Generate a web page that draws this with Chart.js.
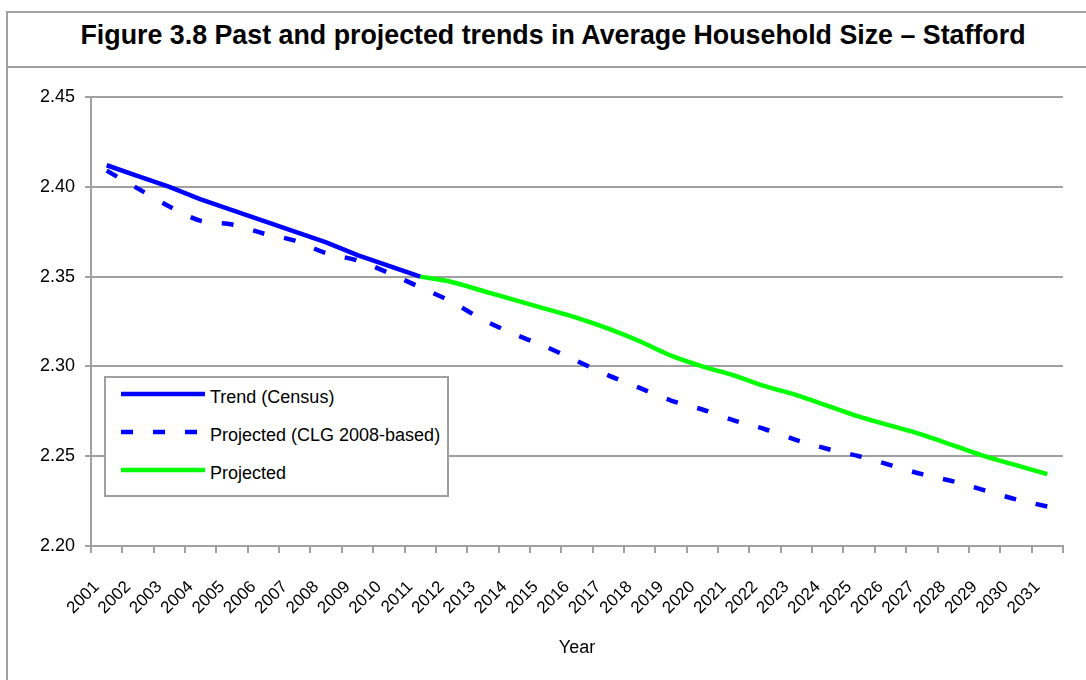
<!DOCTYPE html>
<html>
<head>
<meta charset="utf-8">
<title>Average Household Size - Stafford</title>
<script src="https://cdn.jsdelivr.net/npm/chart.js@4/dist/chart.umd.min.js"></script>
<style>
  html, body { margin: 0; padding: 0; background: #fff; overflow: hidden; }
  body { width: 1086px; height: 680px; position: relative; font-family: "Liberation Sans", Arial, sans-serif; color: #000; }
  #frame { position: absolute; left: 6px; top: 11px; width: 1200px; height: 800px; border-left: 2px solid #a0a0a0; border-top: 2px solid #a0a0a0; }
  #titleRule { position: absolute; left: 6px; top: 66px; width: 1200px; border-top: 2px solid #a0a0a0; }
  #chartTitle { position: absolute; left: 8px; width: 1090px; top: 22px; text-align: center; font-weight: bold; font-size: 26.8px; line-height: 26.8px; white-space: nowrap; }
  #chartBox { position: absolute; left: 0; top: 69px; width: 1086px; height: 611px; }
  #legendBox { position: absolute; left: 104px; top: 376px; width: 341px; height: 117px; border: 2px solid #a0a0a0; background: #fff; }
  .legend-row { display: flex; align-items: center; height: 38px; padding-left: 15px; font-size: 18px; white-space: nowrap; }
  .legend-row svg { position: relative; top: -3px; margin-right: 5px; }
</style>
</head>
<body>
<div id="frame"></div>
<div id="titleRule"></div>
<div id="chartTitle">Figure 3.8 Past and projected trends in Average Household Size – Stafford</div>
<div id="chartBox"><canvas id="householdChart"></canvas></div>
<div id="legendBox"></div>

<script>
// Years on the category axis
const years = ['2001', '2002', '2003', '2004', '2005', '2006', '2007', '2008', '2009', '2010',
  '2011', '2012', '2013', '2014', '2015', '2016', '2017', '2018', '2019', '2020',
  '2021', '2022', '2023', '2024', '2025', '2026', '2027', '2028', '2029', '2030', '2031'];

// Census based trend, 2001-2011 only
const trendCensus = [2.412, 2.406, 2.400, 2.393, 2.387, 2.381, 2.375, 2.369, 2.362, 2.356,
  2.350, null, null, null, null, null, null, null, null, null,
  null, null, null, null, null, null, null, null, null, null, null];

// CLG 2008-based household projections
const projectedClg = [2.409, 2.399, 2.389, 2.381, 2.379, 2.374, 2.370, 2.363, 2.359, 2.352,
  2.344, 2.336, 2.326, 2.318, 2.311, 2.303, 2.295, 2.288, 2.281, 2.276,
  2.270, 2.265, 2.259, 2.254, 2.250, 2.245, 2.240, 2.236, 2.231, 2.226, 2.222];

// Local projection, starting from the 2011 trend value
const projectedLocal = [null, null, null, null, null, null, null, null, null, null,
  2.350, 2.347, 2.342, 2.337, 2.332, 2.327, 2.321, 2.314, 2.306, 2.300,
  2.295, 2.289, 2.284, 2.278, 2.272, 2.267, 2.262, 2.256, 2.250, 2.245, 2.240];

// Y axis tick values
const yTicks = [2.20, 2.25, 2.30, 2.35, 2.40, 2.45];

const axisGrey = '#a0a0a0';
const fontFamily = '"Liberation Sans", Arial, sans-serif';

const datasets = [
  {
    label: 'Trend (Census)',
    data: trendCensus,
    borderColor: '#0000ff',
    borderWidth: 4.5,
    tension: 0,
    order: 1
  },
  {
    label: 'Projected (CLG 2008-based)',
    data: projectedClg,
    borderColor: '#0000ff',
    borderWidth: 4.5,
    borderDash: [12, 20],
    tension: 0.3,
    order: 3
  },
  {
    label: 'Projected',
    data: projectedLocal,
    borderColor: '#00ff00',
    borderWidth: 4.5,
    tension: 0.35,
    order: 2
  }
];

const ctx = document.getElementById('householdChart').getContext('2d');
const chart = new Chart(ctx, {
  type: 'line',
  data: {
    labels: years,
    datasets: datasets.map(ds => ({
      ...ds,
      fill: false,
      pointRadius: 0,
      pointHoverRadius: 0,
      borderCapStyle: 'butt',
      spanGaps: false
    }))
  },
  options: {
    responsive: true,
    maintainAspectRatio: false,
    animation: false,
    layout: { padding: { left: 0, right: 19, top: 28, bottom: 0 } },
    plugins: {
      legend: { display: false },
      title: { display: false },
      tooltip: { enabled: false }
    },
    scales: {
      x: {
        offset: true,
        afterFit: (scale) => { scale.height = 134; },
        grid: {
          offset: true,
          drawOnChartArea: false,
          drawTicks: true,
          tickLength: 7,
          color: axisGrey,
          lineWidth: 2
        },
        border: { display: true, color: axisGrey, width: 2 },
        ticks: {
          autoSkip: false,
          minRotation: 45,
          maxRotation: 45,
          padding: 24,
          labelOffset: -10,
          color: '#000',
          font: { family: fontFamily, size: 17 }
        },
        title: {
          display: true,
          text: 'Year',
          color: '#000',
          font: { family: fontFamily, size: 18 },
          padding: { top: 0, bottom: 21 }
        }
      },
      y: {
        min: yTicks[0],
        max: yTicks[yTicks.length - 1],
        afterFit: (scale) => { scale.width = 91; },
        afterBuildTicks: (scale) => { scale.ticks = yTicks.map(v => ({ value: v })); },
        grid: {
          color: axisGrey,
          lineWidth: 2,
          drawTicks: true,
          tickLength: 6
        },
        border: { display: true, color: axisGrey, width: 2 },
        ticks: {
          padding: 10,
          color: '#000',
          font: { family: fontFamily, size: 18 },
          callback: (value) => Number(value).toFixed(2)
        }
      }
    }
  }
});

// Legend box built from the chart's datasets
const legendBox = document.getElementById('legendBox');
chart.data.datasets.forEach(ds => {
  const row = document.createElement('div');
  row.className = 'legend-row';
  const dash = ds.borderDash ? ds.borderDash.join(' ') : 'none';
  row.innerHTML =
    `<svg width="84" height="10"><line x1="0" y1="5" x2="84" y2="5" stroke="${ds.borderColor}" ` +
    `stroke-width="4.5" stroke-dasharray="${dash}" stroke-linecap="butt"/></svg>` +
    `<span></span>`;
  row.querySelector('span').textContent = ds.label;
  legendBox.appendChild(row);
});
</script>
</body>
</html>
